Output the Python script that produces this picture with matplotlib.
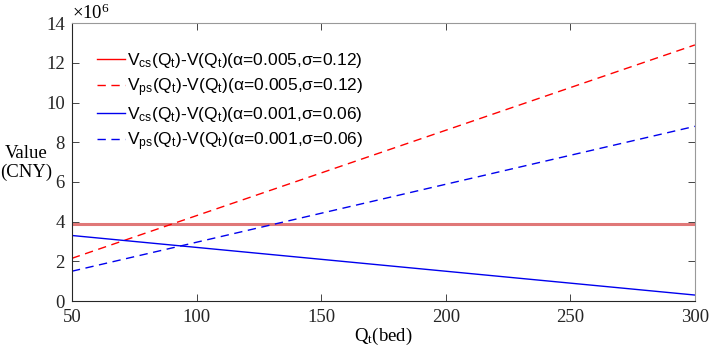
import numpy as np
import matplotlib
matplotlib.use("Agg")
import matplotlib.pyplot as plt

# values (units of 1e6 CNY)
q = [50, 300]
v_cs_high = [3.9, 3.9]
v_ps_high = [2.15, 12.9]
v_cs_low = [3.3, 0.3]
v_ps_low = [1.5, 8.8]

labels = [
    r"V$\mathregular{_{cs}}$(Q$\mathregular{_t}$)-V(Q$\mathregular{_t}$)(α=0.005,σ=0.12)",
    r"V$\mathregular{_{ps}}$(Q$\mathregular{_t}$)-V(Q$\mathregular{_t}$)(α=0.005,σ=0.12)",
    r"V$\mathregular{_{cs}}$(Q$\mathregular{_t}$)-V(Q$\mathregular{_t}$)(α=0.001,σ=0.06)",
    r"V$\mathregular{_{ps}}$(Q$\mathregular{_t}$)-V(Q$\mathregular{_t}$)(α=0.001,σ=0.06)",
]

plt.rcParams["font.family"] = ["Liberation Serif", "DejaVu Serif"]
plt.rcParams["xtick.direction"] = "in"
plt.rcParams["ytick.direction"] = "in"

fig = plt.figure(figsize=(7.12, 3.5), dpi=100)
ax = fig.add_axes([0.101, 0.14, 0.875, 0.794])

ax.plot(q, v_cs_high, color="#e07878", lw=2.2, label=labels[0])
ax.plot(q, v_ps_high, color="#ff0000", lw=1.0, ls=(0, (6, 4)), label=labels[1])
ax.plot(q, v_cs_low, color="#0000ee", lw=1.0, label=labels[2])
ax.plot(q, v_ps_low, color="#0000ee", lw=1.0, ls=(0, (6, 4)), label=labels[3])

ax.set_xlim(50, 300)
ax.set_ylim(0, 14)
ax.set_xticks(np.arange(50, 301, 50))
ax.set_yticks(np.arange(0, 15, 2))
ax.tick_params(top=True, right=True, labelsize=13.5, length=5, width=0.6,
               colors="#262626")
ax.tick_params(axis="x", pad=6)
ax.tick_params(axis="y", pad=5)
for s in ax.spines.values():
    s.set_linewidth(0.8)
    s.set_color("#262626")
for s in ("top", "right"):
    ax.spines[s].set_color("#999999")

ax.set_xlabel(r"$\mathregular{Q_t}$(bed)", fontsize=13.5, labelpad=0)
fig.text(0.037, 0.535, "Value\n(CNY)", fontsize=13.5, ha="center",
         va="center", linespacing=1.1)
ax.text(0.0, 1.0, r"$\mathregular{\times10^6}$", transform=ax.transAxes,
        fontsize=13.5, ha="left", va="bottom")

leg = ax.legend(loc="upper left", bbox_to_anchor=(0.015, 0.955), frameon=False,
                prop={"family": ["Liberation Sans", "DejaVu Sans"], "size": 12.5},
                handlelength=1.6, handletextpad=0.15, labelspacing=0.36)
leg.get_lines()[0].set_linewidth(1.0)
leg.get_lines()[0].set_color("#ff0000")

fig.savefig("out.png", dpi=100)
